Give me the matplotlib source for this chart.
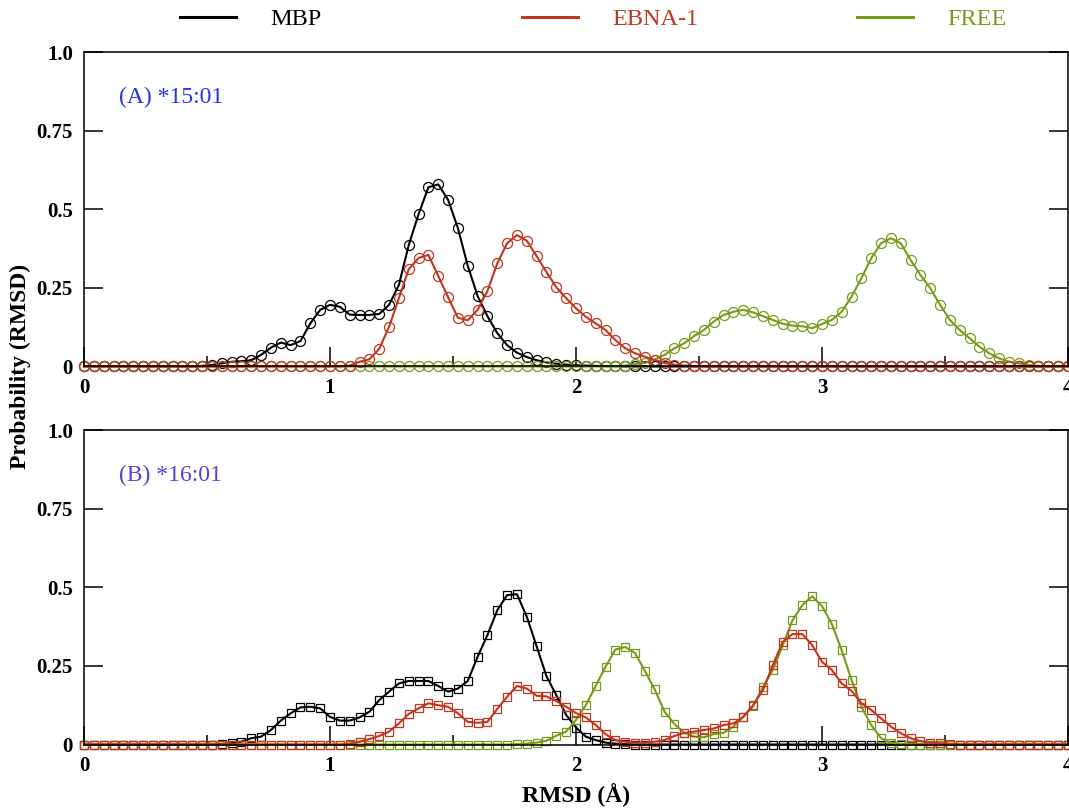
import numpy as np
import matplotlib
matplotlib.use("Agg")
import matplotlib.pyplot as plt
from matplotlib.lines import Line2D

plt.rcParams["font.family"] = ["Liberation Serif", "DejaVu Serif"]

# RMSD grid (A), step 0.04
rmsd = np.linspace(0, 4, 101)

# panel A: *15:01
mbp_a = [0, 0, 0, 0, 0, 0, 0, 0, 0, 0,
         0, 0, 0.002, 0.005, 0.01, 0.015, 0.017, 0.02, 0.037, 0.06,
         0.076, 0.068, 0.081, 0.137, 0.18, 0.196, 0.19, 0.165, 0.164, 0.164,
         0.167, 0.196, 0.259, 0.386, 0.484, 0.57, 0.579, 0.53, 0.44, 0.32,
         0.224, 0.16, 0.106, 0.068, 0.044, 0.03, 0.02, 0.013, 0.009, 0.006,
         0.004, 0.003, 0.002, 0.001, 0.001, 0, 0, 0, 0, 0,
         0, 0, 0, 0, 0, 0, 0, 0, 0, 0,
         0, 0, 0, 0, 0, 0, 0, 0, 0, 0,
         0, 0, 0, 0, 0, 0, 0, 0, 0, 0,
         0, 0, 0, 0, 0, 0, 0, 0, 0, 0,
         0]
ebna_a = [0, 0, 0, 0, 0, 0, 0, 0, 0, 0,
          0, 0, 0, 0, 0, 0, 0, 0, 0, 0,
          0, 0, 0, 0, 0, 0, 0, 0.003, 0.015, 0.023,
          0.056, 0.126, 0.217, 0.309, 0.345, 0.355, 0.288, 0.22, 0.155, 0.147,
          0.18, 0.24, 0.328, 0.392, 0.418, 0.4, 0.351, 0.3, 0.252, 0.217,
          0.185, 0.158, 0.137, 0.116, 0.084, 0.058, 0.042, 0.031, 0.021, 0.011,
          0.006, 0.003, 0.001, 0, 0, 0, 0, 0, 0, 0,
          0, 0, 0, 0, 0, 0, 0, 0, 0, 0,
          0, 0, 0, 0, 0, 0, 0, 0, 0, 0,
          0, 0, 0, 0, 0, 0, 0, 0, 0, 0,
          0]
free_a = [0, 0, 0, 0, 0, 0, 0, 0, 0, 0,
          0, 0, 0, 0, 0, 0, 0, 0, 0, 0,
          0, 0, 0, 0, 0, 0, 0, 0, 0, 0,
          0, 0, 0, 0, 0, 0, 0, 0, 0, 0,
          0, 0, 0, 0, 0, 0, 0, 0, 0, 0,
          0, 0, 0, 0, 0, 0.003, 0.008, 0.012, 0.022, 0.037,
          0.058, 0.074, 0.097, 0.116, 0.143, 0.164, 0.174, 0.18, 0.172, 0.16,
          0.148, 0.136, 0.13, 0.128, 0.122, 0.135, 0.148, 0.174, 0.222, 0.28,
          0.344, 0.392, 0.408, 0.392, 0.339, 0.291, 0.249, 0.196, 0.148, 0.116,
          0.09, 0.063, 0.042, 0.026, 0.015, 0.01, 0.005, 0.002, 0, 0,
          0]

# panel B: *16:01
mbp_b = [0, 0, 0, 0, 0, 0, 0, 0, 0, 0,
         0, 0, 0, 0, 0.002, 0.004, 0.009, 0.02, 0.025, 0.046,
         0.076, 0.099, 0.118, 0.12, 0.115, 0.088, 0.076, 0.076, 0.086, 0.104,
         0.141, 0.168, 0.194, 0.202, 0.202, 0.202, 0.186, 0.168, 0.178, 0.202,
         0.279, 0.348, 0.427, 0.475, 0.478, 0.406, 0.312, 0.217, 0.157, 0.094,
         0.054, 0.025, 0.014, 0.006, 0.003, 0.001, 0, 0, 0, 0,
         0, 0, 0, 0, 0, 0, 0, 0, 0, 0,
         0, 0, 0, 0, 0, 0, 0, 0, 0, 0,
         0, 0, 0, 0, 0, 0, 0, 0, 0, 0,
         0, 0, 0, 0, 0, 0, 0, 0, 0, 0,
         0]
ebna_b = [0, 0, 0, 0, 0, 0, 0, 0, 0, 0,
          0, 0, 0, 0, 0, 0, 0, 0, 0, 0,
          0, 0, 0, 0, 0, 0, 0, 0.003, 0.009, 0.017,
          0.027, 0.041, 0.067, 0.097, 0.115, 0.131, 0.125, 0.12, 0.099, 0.072,
          0.069, 0.072, 0.113, 0.152, 0.186, 0.178, 0.155, 0.153, 0.138, 0.12,
          0.1, 0.086, 0.062, 0.033, 0.014, 0.009, 0.006, 0.006, 0.009, 0.014,
          0.027, 0.037, 0.041, 0.046, 0.051, 0.062, 0.067, 0.088, 0.125, 0.173,
          0.252, 0.326, 0.351, 0.351, 0.316, 0.263, 0.237, 0.194, 0.171, 0.131,
          0.11, 0.083, 0.057, 0.036, 0.02, 0.011, 0.006, 0.004, 0.002, 0,
          0, 0, 0, 0, 0, 0, 0, 0, 0, 0,
          0]
free_b = [0, 0, 0, 0, 0, 0, 0, 0, 0, 0,
          0, 0, 0, 0, 0, 0, 0, 0, 0, 0,
          0, 0, 0, 0, 0, 0, 0, 0, 0, 0,
          0, 0, 0, 0, 0, 0, 0, 0, 0, 0,
          0, 0, 0, 0, 0.001, 0.003, 0.006, 0.012, 0.028, 0.041,
          0.078, 0.125, 0.186, 0.247, 0.302, 0.31, 0.291, 0.234, 0.175, 0.104,
          0.065, 0.037, 0.025, 0.023, 0.033, 0.037, 0.057, 0.088, 0.122, 0.182,
          0.237, 0.315, 0.395, 0.443, 0.471, 0.44, 0.383, 0.3, 0.205, 0.12,
          0.062, 0.02, 0.006, 0.002, 0, 0, 0, 0, 0, 0,
          0, 0, 0, 0, 0, 0, 0, 0, 0, 0,
          0]

labels = ["MBP", "EBNA-1", "FREE"]
colors = ["black", "#c0361f", "#789a1a"]
yticks = [0, 0.25, 0.5, 0.75, 1.0]
ytick_labels = ["0", "0.25", "0.5", "0.75", "1.0"]

W, H = 1069, 809
fig = plt.figure(figsize=(W / 100, H / 100), dpi=100)
ax_a = fig.add_axes([84 / W, 1 - 366.5 / H, 984 / W, 314.5 / H])
ax_b = fig.add_axes([84 / W, 1 - 744.5 / H, 984 / W, 314.5 / H])

panels = [
    (ax_a, [mbp_a, free_a, ebna_a], "o", 7.2, "(A) *15:01", "#2233ee"),
    (ax_b, [mbp_b, free_b, ebna_b], "s", 5.8, "(B) *16:01", "#5b3fd3"),
]
order = [0, 2, 1]  # black, green, red on top

for ax, series, mk, ms, tag, tagcol in panels:
    for k, ys in zip(order, series):
        ax.plot(rmsd, ys, color=colors[k], lw=1.5, marker=mk, ms=ms,
                mfc="none", mec=colors[k], mew=0.9, clip_on=False)
    ax.set_xlim(0, 4)
    ax.set_ylim(0, 1.0)
    ax.set_yticks(yticks)
    ax.set_yticklabels(ytick_labels)
    ax.set_xticks([0, 1, 2, 3, 4])
    ax.set_xticks([0.5, 1.5, 2.5, 3.5], minor=True)
    ax.tick_params(axis="both", which="major", direction="in", length=14,
                   width=1.1, labelsize=15, pad=8)
    ax.tick_params(axis="x", which="minor", direction="in", length=7, width=1.1)
    ax.tick_params(axis="y", right=True)
    for lab in ax.get_xticklabels() + ax.get_yticklabels():
        lab.set_fontweight("bold")
    for sp in ax.spines.values():
        sp.set_linewidth(1.1)
    ax.text(0.036, 0.857, tag, transform=ax.transAxes, color=tagcol,
            fontsize=17, va="center", ha="left")

# legend across the top
leg_x = [180, 522, 857]
for lab, col, lx in zip(labels, colors, leg_x):
    h = Line2D([], [], color=col, lw=2.2)
    leg = fig.legend([h], [lab], loc="center left",
                     bbox_to_anchor=(lx / W, 1 - 19 / H), frameon=False,
                     borderpad=0, borderaxespad=0, fontsize=17.5,
                     handlelength=2.3, handletextpad=1.4)
    for t in leg.get_texts():
        t.set_color(col)

fig.text(20 / W, 1 - 366 / H, "Probability (RMSD)", rotation=90,
         ha="center", va="center", fontsize=17, fontweight="bold")
fig.text(576 / W, 1 - 795 / H, "RMSD (Å)", ha="center", va="center",
         fontsize=17, fontweight="bold")

fig.savefig("out.png", dpi=100)
